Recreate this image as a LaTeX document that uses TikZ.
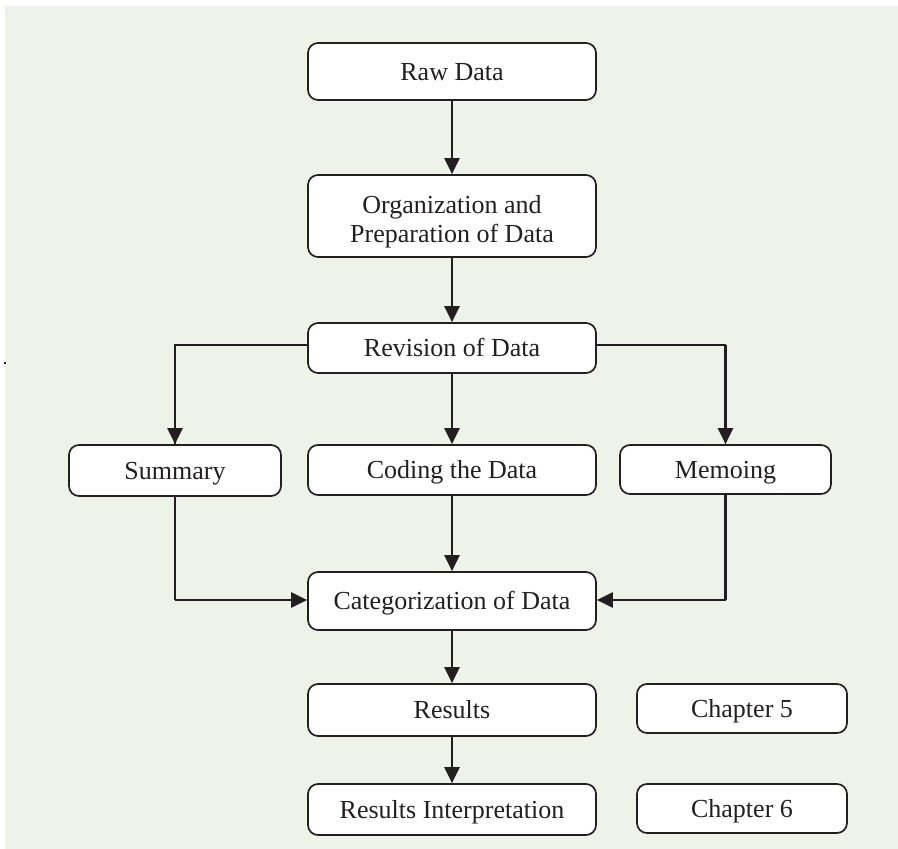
\documentclass[tikz,border=0pt]{standalone}
\usepackage{fontspec}
\setmainfont{Liberation Serif}
\usetikzlibrary{arrows.meta}
\definecolor{panel}{HTML}{EDF3E8}
\definecolor{ink}{HTML}{231F20}
\begin{document}
\begin{tikzpicture}[x=1pt,y=-1pt,
  box/.style={draw=ink, line width=1.7pt, fill=white, rounded corners=10pt,
    inner sep=0pt, text=ink, font=\fontsize{26}{29}\selectfont,
    text height=17pt, text depth=0pt},
  wide/.style={box, minimum width=288pt},
  flow/.style={draw=ink, line width=2.2pt, -{Triangle[length=16pt,width=15pt]}},
  link/.style={draw=ink, line width=1.3pt},
  thick link/.style={draw=ink, line width=2.2pt}]
  \useasboundingbox (0,0) rectangle (898,849);
  \fill[panel] (5,6) rectangle (898,849);
  \fill[ink] (4,362) rectangle (6,364);

  % main column
  \node[wide, minimum height=57pt] (raw) at (452,71.5) {Raw Data};
  \node[wide, minimum height=82pt, align=center, text height=52pt]
    (org) at (452,216) {Organization and\\Preparation of Data};
  \node[wide, minimum height=50pt] (rev) at (452,348) {Revision of Data};
  \node[wide, minimum height=50pt] (cod) at (452,470) {Coding the Data};
  \node[wide, minimum height=58pt] (cat) at (452,601) {Categorization of Data};
  \node[wide, minimum height=52pt] (res) at (452,710) {Results};
  \node[wide, minimum height=51pt] (int) at (452,809.5) {Results Interpretation};

  % side branches
  \node[box, minimum width=212pt, minimum height=51pt] (sum) at (175,470.5) {Summary};
  \node[box, minimum width=211pt, minimum height=49pt] (mem) at (725.5,469.5) {Memoing};

  % chapter labels
  \node[box, minimum width=210pt, minimum height=49pt] (ch5) at (742,708.5) {Chapter 5};
  \node[box, minimum width=210pt, minimum height=49pt] (ch6) at (742,808.5) {Chapter 6};

  % connectors down the main column
  \draw[flow] (raw) -- (org);
  \draw[flow] (org) -- (rev);
  \draw[flow] (rev) -- (cod);
  \draw[flow] (cod) -- (cat);
  \draw[flow] (cat) -- (res);
  \draw[flow] (res) -- (int);

  % branches out of the revision step
  \draw[link] (rev.west |- 0,345) -| (sum.north);
  \draw[flow] (175,345) -- (sum.north);
  \draw[link] (rev.east |- 0,345) -| (mem.north);
  \draw[flow] (725.5,345) -- (mem.north);

  % branches back into categorization
  \draw[link] (sum.south) -- (175,600);
  \draw[flow] (175,600) -- (cat.west |- 0,600);
  \draw[thick link] (mem.south) |- (725.5,600);
  \draw[flow] (725.5,600) -- (cat.east |- 0,600);
\end{tikzpicture}
\end{document}
